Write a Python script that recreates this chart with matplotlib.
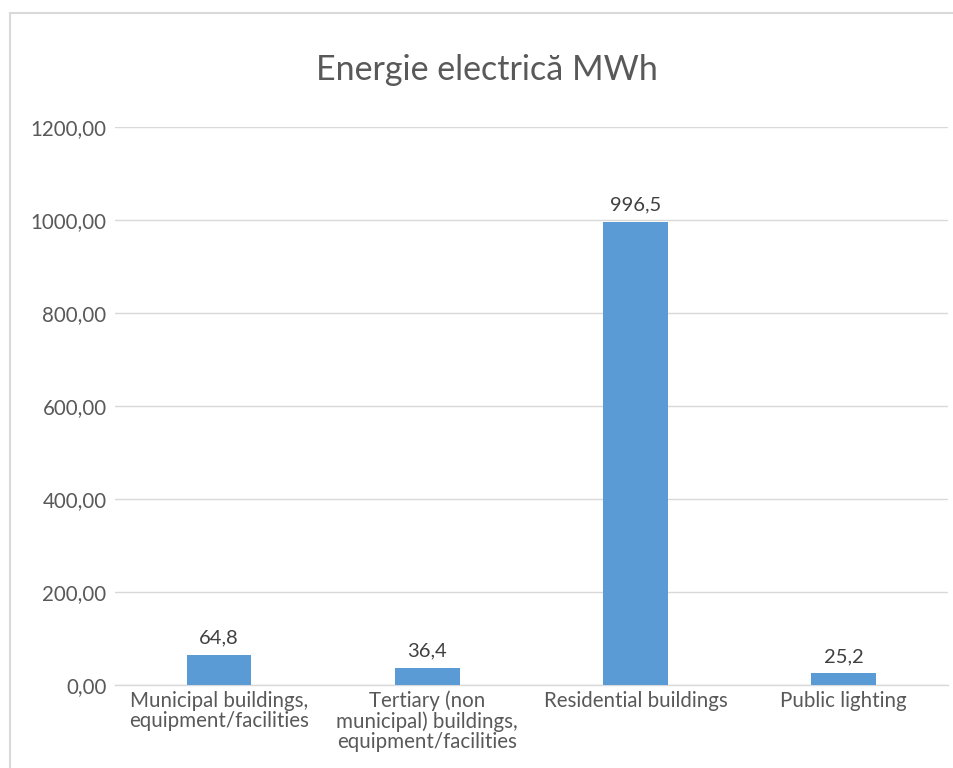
import matplotlib.pyplot as plt
from matplotlib.patches import Rectangle
from matplotlib.ticker import FuncFormatter

categories = ['Municipal buildings,\nequipment/facilities',
              'Tertiary (non\nmunicipal) buildings,\nequipment/facilities',
              'Residential buildings',
              'Public lighting']
values = [64.8, 36.4, 996.5, 25.2]
value_labels = ['64,8', '36,4', '996,5', '25,2']
yticks = [0, 200, 400, 600, 800, 1000, 1200]

plt.rcParams['font.family'] = ['Lato', 'DejaVu Sans']

fig = plt.figure(figsize=(9.54, 7.68), dpi=100)
ax = fig.add_axes([0.1205, 0.1081, 0.873, 0.7265])

# chart border like excel
fig.patches.append(Rectangle((10 / 954, -0.1), 1.2, 0.1 + 1 - 13 / 768,
                             transform=fig.transFigure, fill=False,
                             edgecolor='#D9D9D9', linewidth=1.5))

x = range(len(categories))
bars = ax.bar(x, values, width=0.31, color='#5B9BD5', zorder=3)

for b, lab in zip(bars, value_labels):
    ax.annotate(lab, (b.get_x() + b.get_width() / 2, b.get_height()),
                xytext=(0, 6), textcoords='offset points',
                ha='center', va='bottom', fontsize=14.5, color='#404040')

ax.set_xlim(-0.5, len(categories) - 0.5)
ax.set_ylim(0, 1200)
ax.set_yticks(yticks)
ax.yaxis.set_major_formatter(FuncFormatter(lambda v, p: f'{v:.2f}'.replace('.', ',')))
ax.set_xticks(list(x))
ax.set_xticklabels(categories, linespacing=1.0)
ax.tick_params(axis='both', length=0, labelsize=14.8, labelcolor='#595959')
ax.tick_params(axis='y', pad=6)
ax.tick_params(axis='x', pad=4)

ax.grid(axis='y', color='#D9D9D9', linewidth=1, zorder=0)
for s in ['top', 'right', 'left']:
    ax.spines[s].set_visible(False)
ax.spines['bottom'].set_color('#D9D9D9')
ax.spines['bottom'].set_linewidth(1)

fig.text(0.5107, 1 - 70 / 768, 'Energie electrică MWh', ha='center', va='center',
         fontsize=24.5, color='#595959')

fig.savefig('out.png', dpi=100)
